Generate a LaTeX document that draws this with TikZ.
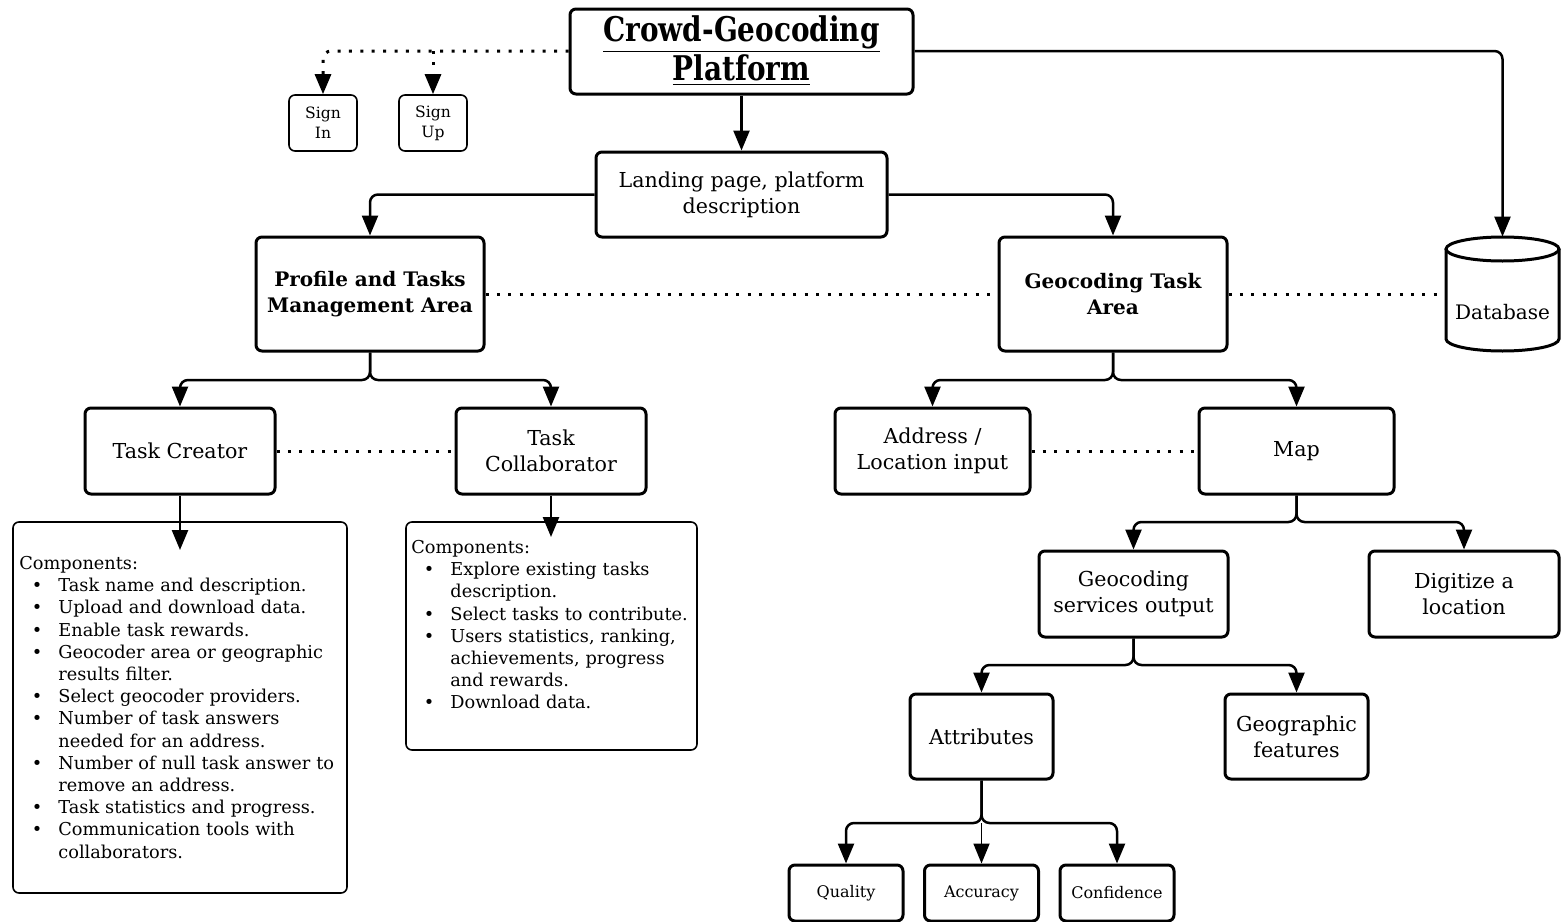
\documentclass[tikz,border=0pt]{standalone}
\usepackage{fontspec}
\setmainfont{DejaVu Serif}
\newfontfamily\titlefont[FakeStretch=0.82]{DejaVu Serif}
\usetikzlibrary{arrows.meta}

% compact bullet list used inside the component boxes
\newenvironment{complist}{%
  \begin{list}{\textbullet}{%
    \setlength\leftmargin{19.5pt}\setlength\labelsep{8pt}%
    \setlength\labelwidth{10pt}\setlength\itemsep{0pt}%
    \setlength\parsep{0pt}\setlength\topsep{0pt}\setlength\partopsep{0pt}}}%
  {\end{list}}

\begin{document}
\begin{tikzpicture}[x=0.5pt,y=-0.5pt,
  box/.style={draw,line width=1.5pt,rounded corners=3pt,inner sep=0pt,align=center,
    font=\fontsize{10.3}{13}\selectfont},
  boldbox/.style={box,font=\fontsize{10}{13}\selectfont\bfseries},
  smallbox/.style={draw,line width=0.8pt,rounded corners=3pt,inner sep=0pt,align=center,
    font=\fontsize{7.8}{10}\selectfont,minimum width=34pt,minimum height=28pt},
  leafbox/.style={box,font=\fontsize{8}{10}\selectfont,minimum width=57pt,minimum height=28pt},
  listbox/.style={draw,line width=0.8pt,rounded corners=3pt,inner sep=0pt},
  listtext/.style={anchor=north west,inner sep=0pt,text width=162pt,align=left,
    font=\fontsize{8.87}{11.1}\selectfont},
  tip/.style={-{Triangle[width=8pt,length=10pt]}},
  link/.style={line width=1.25pt,rounded corners=4pt,tip},
  dotlink/.style={line width=1.5pt,dash pattern=on 1.5pt off 4.2pt},
]
\useasboundingbox (0,0) rectangle (1563,921);

% ---- top level ----
\node[box,minimum width=171.5pt,minimum height=42.5pt] (title) at (741.5,51.5) {};
\node[inner sep=0pt,align=center,
  font=\titlefont\fontsize{17}{18.2}\selectfont\bfseries] (titletext) at (741.5,50.5)
  {\underline{Crowd-Geocoding}\\\underline{Platform}};
\node[smallbox] (signin) at (323,123) {Sign\\In};
\node[smallbox] (signup) at (433,123) {Sign\\Up};
\node[box,minimum width=145.5pt,minimum height=42.5pt] (landing) at (741.5,194.5)
  {Landing page, platform\\description};

% ---- database cylinder ----
\node[minimum width=56.5pt,minimum height=57pt,inner sep=0pt] (db) at (1502.5,294) {};
\draw[line width=1.5pt] (1446,249) -- (1446,339)
  arc[start angle=180,end angle=360,x radius=28.25pt,y radius=6pt] -- (1559,249);
\draw[line width=1.5pt] (1502.5,249) ellipse[x radius=28.25pt,y radius=6pt];
\node[font=\fontsize{10}{12}\selectfont,inner sep=0pt] (dbtext) at (1502.5,312) {Database};

% ---- areas ----
\node[boldbox,minimum width=114pt,minimum height=57pt] (profile) at (370,294)
  {Profile and Tasks\\Management Area};
\node[boldbox,minimum width=114pt,minimum height=57pt] (gta) at (1113,294)
  {Geocoding Task\\Area};

% ---- profile side ----
\node[box,minimum width=95pt,minimum height=43pt] (creator) at (180,451) {Task Creator};
\node[box,minimum width=95pt,minimum height=43pt] (collab) at (551,451) {Task\\Collaborator};
\node[listbox,minimum width=167pt,minimum height=185.5pt] (comp1) at (180,707.5) {};
\node[listbox,minimum width=145.5pt,minimum height=114pt] (comp2) at (551.5,636) {};
\node[listtext] (comp1text) at (19,556) {Components:
  \begin{complist}
  \item Task name and description.
  \item Upload and download data.
  \item Enable task rewards.
  \item Geocoder area or geographic\newline results filter.
  \item Select geocoder providers.
  \item Number of task answers\newline needed for an address.
  \item Number of null task answer to\newline remove an address.
  \item Task statistics and progress.
  \item Communication tools with\newline collaborators.
  \end{complist}};
\node[listtext] (comp2text) at (411,540) {Components:
  \begin{complist}
  \item Explore existing tasks\newline description.
  \item Select tasks to contribute.
  \item Users statistics, ranking,\newline achievements, progress\newline and rewards.
  \item Download data.
  \end{complist}};

% ---- geocoding side ----
\node[box,minimum width=97.5pt,minimum height=43pt] (address) at (932.5,451) {Address /\\Location input};
\node[box,minimum width=97.5pt,minimum height=43pt] (map) at (1296.5,451) {Map};
\node[box,minimum width=94.5pt,minimum height=43pt] (gso) at (1133.5,594) {Geocoding\\services output};
\node[box,minimum width=95pt,minimum height=43pt] (digitize) at (1464,594) {Digitize a\\location};
\node[box,minimum width=71.5pt,minimum height=42.5pt] (attr) at (981.5,736.5) {Attributes};
\node[box,minimum width=71.5pt,minimum height=42.5pt] (geofeat) at (1296.5,736.5) {Geographic\\features};
\node[leafbox] (quality) at (846,893) {Quality};
\node[leafbox] (accuracy) at (981.5,893) {Accuracy};
\node[leafbox] (confidence) at (1117,893) {Confidence};

% ---- junction points ----
\coordinate (sj) at (323,51);
\coordinate (uj) at (433,51);
\coordinate (pj) at (370,380);
\coordinate (gj) at (1113,380);
\coordinate (mj) at (1296.5,522);
\coordinate (oj) at (1133.5,665);
\coordinate (aj) at (981.5,823);
\coordinate (c1end) at (180,550);
\coordinate (c2end) at (551,537);

% ---- solid connectors ----
\draw[link] (title.south) -- (landing.north);
\draw[link] (title.east |- sj) -| (db.north);
\draw[link] (landing.west) -| (profile.north);
\draw[link] (landing.east) -| (gta.north);
\draw[link] (profile.south) -- (pj) -| (creator.north);
\draw[link] (profile.south) -- (pj) -| (collab.north);
\draw[link] (creator.south) -- (c1end);
\draw[link] (collab.south) -- (c2end);
\draw[link] (gta.south) -- (gj) -| (address.north);
\draw[link] (gta.south) -- (gj) -| (map.north);
\draw[link] (map.south) -- (mj) -| (gso.north);
\draw[link] (map.south) -- (mj) -| (digitize.north);
\draw[link] (gso.south) -- (oj) -| (attr.north);
\draw[link] (gso.south) -- (oj) -| (geofeat.north);
\draw[link] (attr.south) -- (aj) -| (quality.north);
\draw[link] (attr.south) -- (aj) -| (confidence.north);
\draw[line width=0.9pt,tip] (aj) -- (accuracy.north);

% ---- dotted connectors ----
\draw[dotlink,rounded corners=4pt,tip] (title.west |- sj) -- (sj) -- (signin.north);
\draw[dotlink,tip] (uj) -- (signup.north);
\draw[dotlink] (profile.east) -- (gta.west);
\draw[dotlink] (gta.east) -- (db.west);
\draw[dotlink] (creator.east) -- (collab.west);
\draw[dotlink] (address.east) -- (map.west);
\end{tikzpicture}
\end{document}
